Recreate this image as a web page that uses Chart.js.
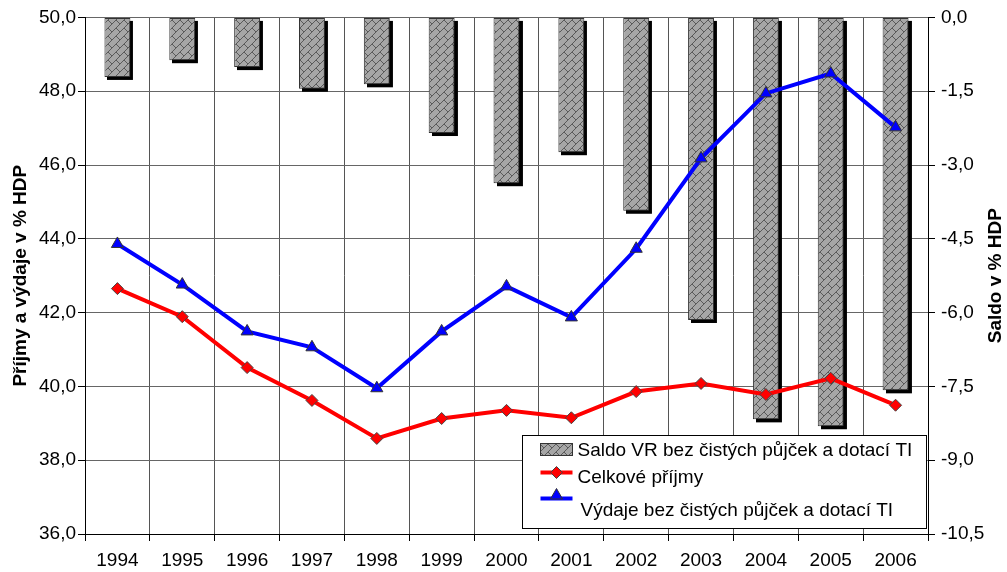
<!DOCTYPE html>
<html lang="cs">
<head>
  <meta charset="UTF-8">
  <title>Příjmy a výdaje v % HDP</title>
  <script src="https://cdn.jsdelivr.net/npm/chart.js"></script>
  <style>
    html, body { margin: 0; padding: 0; background: #fff; }
    #wrap { width: 1007px; height: 572px; position: relative; }
  </style>
</head>
<body>
  <div id="wrap"><canvas id="chart"></canvas></div>

  <script>
    // data
    const years = ['1994', '1995', '1996', '1997', '1998', '1999', '2000', '2001', '2002', '2003', '2004', '2005', '2006'];
    const saldo = [-1.21, -0.87, -1.01, -1.45, -1.36, -2.35, -3.37, -2.74, -3.93, -6.15, -8.17, -8.31, -7.58];
    const prijmy = [42.65, 41.89, 40.51, 39.62, 38.59, 39.13, 39.35, 39.15, 39.86, 40.08, 39.78, 40.22, 39.49];
    const vydaje = [43.86, 42.76, 41.49, 41.06, 39.95, 41.49, 42.71, 41.87, 43.73, 46.18, 47.94, 48.48, 47.02];
    const leftMin = 36, leftMax = 50, leftStep = 2;
    const rightMin = -10.5, rightMax = 0, rightStep = 1.5;

    const labelSaldo = 'Saldo VR bez čistých půjček a dotací TI';
    const labelPrijmy = 'Celkové příjmy';
    const labelVydaje = 'Výdaje bez čistých půjček a dotací TI';
    const titleLeft = 'Příjmy a výdaje v % HDP';
    const titleRight = 'Saldo v % HDP';

    Chart.defaults.font.family = '"Liberation Sans", Arial, sans-serif';
    Chart.defaults.font.size = 19;
    Chart.defaults.color = '#000';

    // excel-like "diagonal brick" fill
    function brickPattern() {
      const c = document.createElement('canvas');
      c.width = 8; c.height = 8;
      const g = c.getContext('2d');
      g.fillStyle = '#a6a6a6';
      g.fillRect(0, 0, 8, 8);
      g.fillStyle = '#5a5a5a';
      const rows = [0x01, 0x02, 0x04, 0x08, 0x18, 0x24, 0x42, 0x81];
      rows.forEach((bits, y) => {
        for (let x = 0; x < 8; x++) {
          if (bits & (0x80 >> x)) g.fillRect(x, y, 1, 1);
        }
      });
      return g.createPattern(c, 'repeat');
    }
    const brick = brickPattern();

    const fmt = v => Number(v).toFixed(1).replace('.', ',').replace('-0,0', '0,0');

    // black drop shadow behind the bars
    const barShadow = {
      id: 'barShadow',
      beforeDatasetDraw(chart, args) {
        if (args.meta.type !== 'bar') return;
        const ctx = chart.ctx;
        ctx.save();
        ctx.fillStyle = '#000';
        args.meta.data.forEach(bar => {
          const p = bar.getProps(['x', 'y', 'base', 'width'], true);
          const top = Math.min(p.y, p.base);
          const h = Math.abs(p.base - p.y);
          ctx.fillRect(Math.round(p.x - p.width / 2) + 3, top + 3, p.width, h);
        });
        ctx.restore();
      }
    };

    // right axis title reads bottom-to-top like the left one
    const rightTitle = {
      id: 'rightTitle',
      afterDraw(chart) {
        const ctx = chart.ctx;
        const a = chart.chartArea;
        ctx.save();
        ctx.translate(chart.width - 11, (a.top + a.bottom) / 2);
        ctx.rotate(-Math.PI / 2);
        ctx.font = 'bold 19px "Liberation Sans", Arial, sans-serif';
        ctx.fillStyle = '#000';
        ctx.textAlign = 'center';
        ctx.textBaseline = 'middle';
        ctx.fillText(titleRight, 0, 0);
        ctx.restore();
      }
    };

    // boxed legend inside the plot, bottom right
    const boxLegend = {
      id: 'boxLegend',
      afterDraw(chart) {
        const ctx = chart.ctx;
        const a = chart.chartArea;
        const w = 404, h = 93;
        const x0 = Math.round(a.right - 406) + 0.5;
        const y0 = Math.round(a.bottom - 99) + 0.5;
        const ds = chart.data.datasets;
        ctx.save();
        ctx.fillStyle = '#fff';
        ctx.fillRect(x0, y0, w, h);
        ctx.strokeStyle = '#000';
        ctx.lineWidth = 1;
        ctx.strokeRect(x0, y0, w, h);

        // row 1 - bars
        ctx.fillStyle = brick;
        ctx.fillRect(x0 + 18, y0 + 8, 32, 12);
        ctx.strokeStyle = '#333';
        ctx.strokeRect(x0 + 18, y0 + 8, 32, 12);

        // rows 2, 3 - lines with markers
        const drawRow = (d, ly, py) => {
          ctx.strokeStyle = d.borderColor;
          ctx.lineWidth = 4;
          ctx.beginPath();
          ctx.moveTo(x0 + 18, ly);
          ctx.lineTo(x0 + 50, ly);
          ctx.stroke();
          ctx.fillStyle = d.pointBackgroundColor;
          ctx.strokeStyle = d.pointBorderColor;
          ctx.lineWidth = 1;
          Chart.helpers.drawPoint(ctx, {
            pointStyle: d.pointStyle, radius: d.pointRadius, rotation: 0, borderWidth: 1
          }, x0 + 34, py);
        };
        drawRow(ds[1], y0 + 37, y0 + 37);
        drawRow(ds[2], y0 + 63, y0 + 60);

        ctx.fillStyle = '#000';
        ctx.font = '19px "Liberation Sans", Arial, sans-serif';
        ctx.textBaseline = 'alphabetic';
        ctx.fillText(ds[0].label, x0 + 55, y0 + 20.5);
        ctx.fillText(ds[1].label, x0 + 55, y0 + 47);
        ctx.fillText(ds[2].label, x0 + 58, y0 + 80.5);
        ctx.restore();
      }
    };

    const ctx = document.getElementById('chart').getContext('2d');
    const chart = new Chart(ctx, {
      data: {
        labels: years,
        datasets: [
          {
            type: 'bar',
            label: labelSaldo,
            data: saldo,
            yAxisID: 'y1',
            backgroundColor: brick,
            borderColor: '#333',
            borderWidth: 1,
            borderSkipped: false,
            barPercentage: 0.4,
            categoryPercentage: 1,
            order: 3
          },
          {
            type: 'line',
            label: labelPrijmy,
            data: prijmy,
            yAxisID: 'y',
            borderColor: '#ff0000',
            borderWidth: 4,
            tension: 0,
            pointStyle: 'rectRot',
            pointRadius: 6,
            pointBackgroundColor: '#ff0000',
            pointBorderColor: '#444',
            pointBorderWidth: 1,
            order: 1
          },
          {
            type: 'line',
            label: labelVydaje,
            data: vydaje,
            yAxisID: 'y',
            borderColor: '#0000ff',
            borderWidth: 4,
            tension: 0,
            pointStyle: 'triangle',
            pointRadius: 7,
            pointBackgroundColor: '#0000ff',
            pointBorderColor: '#333',
            pointBorderWidth: 1,
            order: 2
          }
        ]
      },
      options: {
        responsive: true,
        maintainAspectRatio: false,
        animation: false,
        events: [],
        layout: { padding: { top: 17, left: 0, right: 0, bottom: 0 } },
        plugins: {
          legend: { display: false },
          tooltip: { enabled: false }
        },
        scales: {
          x: {
            offset: true,
            grid: { offset: true, color: '#555', tickColor: '#000', tickLength: 7 },
            border: { color: '#000' },
            ticks: { padding: 8, maxRotation: 0, autoSkip: false },
            afterFit: s => { s.height = 38; }
          },
          y: {
            position: 'left',
            min: leftMin,
            max: leftMax,
            grid: { color: '#666', tickColor: '#000', tickLength: 7 },
            border: { color: '#000' },
            ticks: { stepSize: leftStep, padding: 2, callback: fmt },
            title: {
              display: true,
              text: titleLeft,
              font: { weight: 'bold', size: 19 },
              padding: { top: 9, bottom: 0 }
            },
            afterFit: s => { s.width = 85; }
          },
          y1: {
            position: 'right',
            min: rightMin,
            max: rightMax,
            grid: { drawOnChartArea: false, tickColor: '#000', tickLength: 7 },
            border: { color: '#000' },
            ticks: { stepSize: rightStep, padding: 6, callback: fmt },
            afterFit: s => { s.width = 79; }
          }
        }
      },
      plugins: [barShadow, boxLegend, rightTitle]
    });
  </script>
</body>
</html>
